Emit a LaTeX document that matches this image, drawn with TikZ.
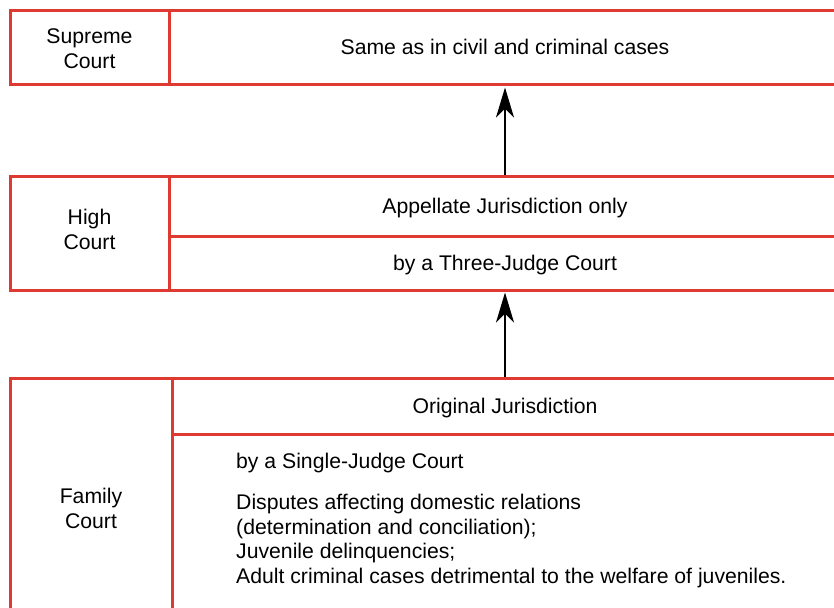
\documentclass[tikz,border=0pt]{standalone}
\usepackage{fontspec}
\setmainfont{Liberation Sans}
\usetikzlibrary{arrows.meta}
\definecolor{courtred}{RGB}{222,58,50}
\tikzset{
  cell/.style={draw=courtred, line width=3pt, rectangle, inner sep=0pt,
    font=\fontsize{21.2}{25}\selectfont, align=center,
    text height=14pt, text depth=0pt},
  txt/.style={inner sep=0pt, font=\fontsize{21.2}{24.7}\selectfont, align=left},
  uparrow/.style={line width=2.2pt, black,
    -{Stealth[length=30pt, width=18pt, inset=9pt]}, shorten >=1pt}
}
\begin{document}
\begin{tikzpicture}[x=1pt, y=-1pt]
  \useasboundingbox (0,0) rectangle (834,607);
  \clip (0,0) rectangle (834,607);

  % Supreme Court row
  \node[cell, minimum width=159pt, minimum height=74pt, text height=42pt] (sclabel) at (89.5,48) {Supreme\\Court};
  \node[cell, minimum width=672pt, minimum height=74pt] (scbody) at (505,48) {Same as in civil and criminal cases};

  % High Court row
  \node[cell, minimum width=159pt, minimum height=114pt, text height=32pt] (hclabel) at (89.5,233) {High\\Court};
  \node[cell, minimum width=672pt, minimum height=60pt] (hctop) at (505,206) {Appellate Jurisdiction only};
  \node[cell, minimum width=672pt, minimum height=54pt] (hcbot) at (505,263) {by a Three-Judge Court};

  % Family Court row
  \node[cell, minimum width=162pt, minimum height=262pt, text height=38pt] (fclabel) at (91,509) {Family\\Court};
  \node[cell, minimum width=666pt, minimum height=56pt] (fctop) at (505,406) {Original Jurisdiction};
  \node[cell, minimum width=666pt, minimum height=206pt] (fcbot) at (505,537) {};
  \node[txt, anchor=west] (fcjudge) at (236,463) {by a Single-Judge Court};
  \node[txt, anchor=west] (fclist) at (236,541) {Disputes affecting domestic relations\\
    (determination and conciliation);\\
    Juvenile delinquencies;\\
    Adult criminal cases detrimental to the welfare of juveniles.};

  % Appeals
  \draw[uparrow] (fctop.north) -- (hcbot.south);
  \draw[uparrow] (hctop.north) -- (scbody.south);
\end{tikzpicture}
\end{document}
